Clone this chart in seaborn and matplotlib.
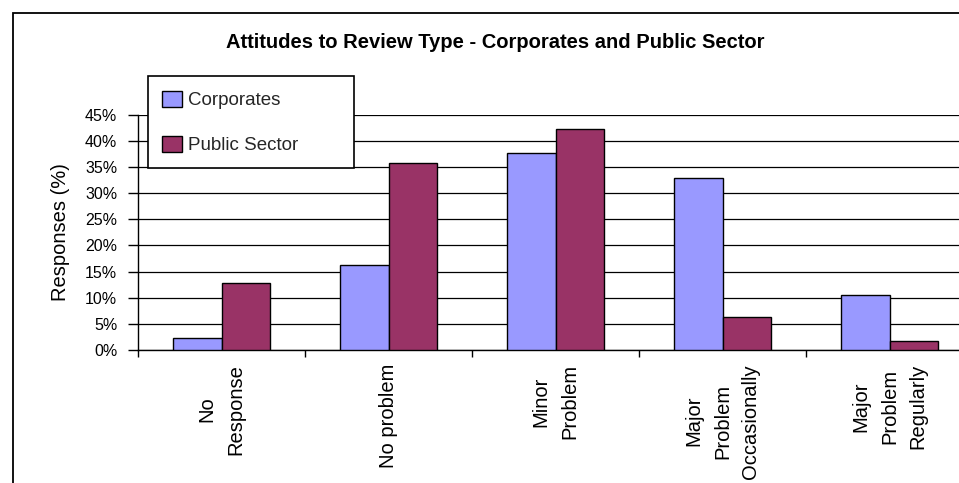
import matplotlib
matplotlib.use("Agg")
import matplotlib.pyplot as plt
import matplotlib.patches as mpatches
from matplotlib.ticker import FixedLocator, FuncFormatter
import seaborn as sns
import pandas as pd

categories = ["No\nResponse", "No problem", "Minor\nProblem",
              "Major\nProblem\nOccasionally", "Major\nProblem\nRegularly"]
series_names = ["Corporates", "Public Sector"]
corporates = [2.2, 16.3, 37.7, 32.8, 10.6]
public_sector = [12.9, 35.8, 42.3, 6.4, 1.8]
yticks = [0, 5, 10, 15, 20, 25, 30, 35, 40, 45]
title = "Attitudes to Review Type - Corporates and Public Sector"
ylabel = "Responses (%)"

df = pd.DataFrame({
    "category": categories * 2,
    "series": [series_names[0]] * len(categories) + [series_names[1]] * len(categories),
    "value": corporates + public_sector,
})

sns.set_theme(style="white")
plt.rcParams["font.family"] = ["Liberation Sans", "DejaVu Sans"]

W, H = 959, 483
fig = plt.figure(figsize=(W / 100, H / 100), dpi=100)
fig.patch.set_facecolor("white")
ax = fig.add_axes([138 / W, (H - 350) / H, 835 / W, 235.3 / H])

palette = {"Corporates": "#9999FF", "Public Sector": "#993366"}
sns.barplot(data=df, x="category", y="value", hue="series", order=categories,
            hue_order=series_names, palette=palette, width=0.575,
            edgecolor="black", linewidth=1.0, saturation=1, ax=ax, zorder=3)

ax.set_xlim(-0.5, 4.5)
ax.set_ylim(0, 45)
ax.set_facecolor("white")
ax.yaxis.set_major_locator(FixedLocator(yticks))
ax.yaxis.set_major_formatter(FuncFormatter(lambda v, p: f"{v:.0f}%"))
ax.grid(axis="y", color="black", linewidth=0.9, zorder=0)
ax.grid(axis="x", visible=False)
ax.set_axisbelow(True)

for s in ["top", "right"]:
    ax.spines[s].set_visible(False)
for s in ["left", "bottom"]:
    ax.spines[s].set_visible(True)
    ax.spines[s].set_color("black")
    ax.spines[s].set_linewidth(1.0)

ax.tick_params(axis="y", which="major", left=True, length=7, width=1,
               color="black", pad=8, labelsize=11.5, labelcolor="black")
ax.set_xticks(range(len(categories)))
ax.set_xticklabels(categories, rotation=90, fontsize=14.5, linespacing=1.62,
                   multialignment="center", va="top", ha="center")
ax.tick_params(axis="x", which="major", bottom=False, length=0, pad=10,
               labelcolor="black")
ax.set_xticks([i - 0.5 for i in range(len(categories) + 1)], minor=True)
ax.tick_params(axis="x", which="minor", bottom=True, length=5, width=1,
               color="black")

ax.set_xlabel("")
ax.set_ylabel(ylabel, fontsize=14.5, color="black", labelpad=11)

fig.text(0.5167, 1 - 43 / H, title, ha="center", va="center",
         fontsize=14.5, fontweight="bold", color="black")

handles, labels = ax.get_legend_handles_labels()
if ax.get_legend() is not None:
    ax.get_legend().remove()
leg = fig.legend(handles, labels, loc="upper left",
                 bbox_to_anchor=(148 / W, 1 - 172 / H, 206 / W, 95.5 / H),
                 mode="expand", fontsize=13.5, frameon=True, fancybox=False,
                 edgecolor="black", facecolor="white", framealpha=1,
                 labelspacing=1.4, handlelength=1.07, handleheight=1.0,
                 handletextpad=0.3, borderpad=0.75, borderaxespad=0)
leg.get_frame().set_linewidth(1.2)
leg.set_zorder(10)

frame = mpatches.Rectangle((13 / W, -0.5), 2, 1 - 12.7 / H + 0.5,
                           transform=fig.transFigure, fill=False,
                           edgecolor="black", linewidth=1.3, zorder=20)
fig.patches.append(frame)

fig.savefig("out.png", dpi=100, facecolor="white")
